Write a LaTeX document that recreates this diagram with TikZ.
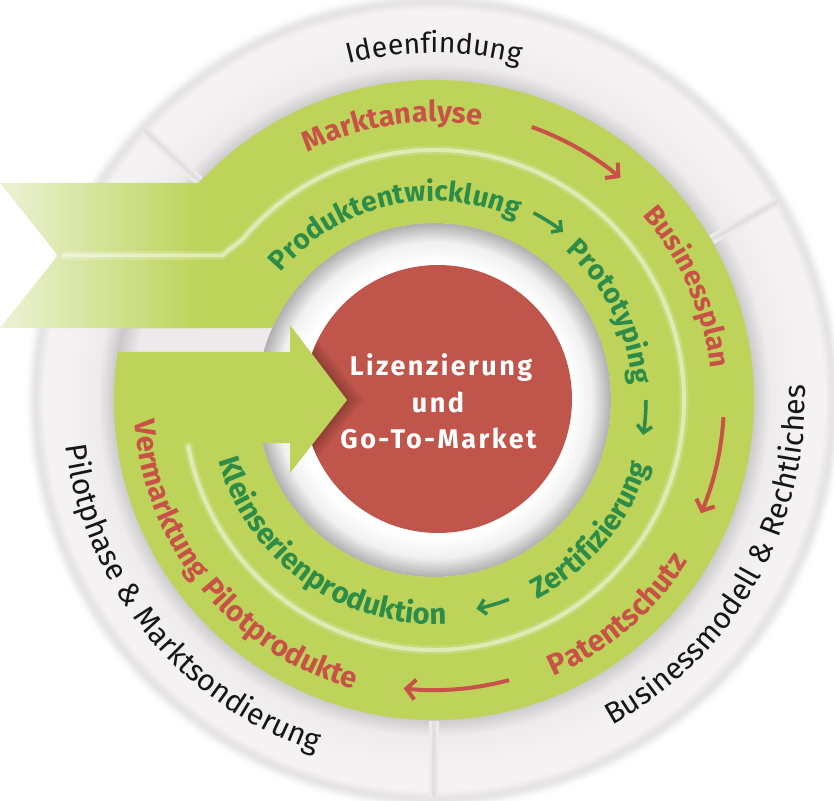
\documentclass[tikz,border=0pt]{standalone}
\usepackage{fontspec}
\setmainfont{Fira Sans}[LetterSpace=4]
\newfontfamily\centerfont{Fira Sans}[LetterSpace=9]
\usetikzlibrary{decorations.text,arrows.meta}

\definecolor{ringgreen}{RGB}{189,211,90}
\definecolor{palegreen}{RGB}{236,242,214}
\definecolor{labred}{RGB}{201,82,72}
\definecolor{labgreen}{RGB}{44,140,72}
\definecolor{redcircle}{RGB}{192,86,75}
\definecolor{outertext}{RGB}{22,22,22}
\definecolor{dA}{RGB}{236,234,234}
\definecolor{dB}{RGB}{203,201,201}
\definecolor{dC}{RGB}{237,235,235}
\definecolor{dD}{RGB}{244,242,242}
\definecolor{dE}{RGB}{230,228,228}
\definecolor{dF}{RGB}{249,249,249}
\definecolor{gA}{RGB}{240,240,240}
\definecolor{gB}{RGB}{176,174,174}
\definecolor{divA}{RGB}{236,234,234}
\definecolor{divB}{RGB}{225,223,223}

\pgfdeclareradialshading{discshade}{\pgfpointorigin}{color(0bp)=(dA); color(18.29bp)=(dA); color(19.45bp)=(dB); color(20.49bp)=(dC); color(22.56bp)=(dD); color(23.78bp)=(dD); color(24.21bp)=(dE); color(24.39bp)=(dE); color(24.76bp)=(dF); color(25bp)=(white); color(50bp)=(white)}
\pgfdeclareradialshading{gapshade}{\pgfpointorigin}{color(0bp)=(white); color(19.49bp)=(white); color(22.32bp)=(gA); color(25bp)=(gB); color(50bp)=(gB)}

\newcommand\myouter[1]{\fontsize{#1}{30}\selectfont\color{outertext}}
\newcommand\myred[1]{\fontsize{#1}{30}\selectfont\bfseries\color{labred}}
\newcommand\mygreen[1]{\fontsize{#1}{30}\selectfont\bfseries\color{labgreen}}

\tikzset{
  centertext/.style={text=white, font=\centerfont\bfseries\fontsize{27}{30}\selectfont, inner sep=0pt, anchor=base},
  redarrow/.style={draw=labred, line width=4pt, -{Straight Barb[length=9pt,width=20pt]}},
  greenarrow/.style={draw=labgreen, line width=3.5pt, -{Straight Barb[length=7pt,width=15pt]}},
}

\begin{document}
\begin{tikzpicture}[x=1pt,y=1pt]
\useasboundingbox (-434,-400) rectangle (400,400);
% outer disc
\shade[shading=discshade] (0,0) circle[radius=410];
\foreach \a in {30,137,270} {
  \draw[divA, line width=10pt] (\a:321) -- (\a:397);
  \draw[divB, line width=4pt] (\a:321) -- (\a:397);
}
% inner gap
\shade[shading=gapshade] (0,0) circle[radius=177];
% red circle
\fill[redcircle] (4,1) circle[radius=134];
\begin{scope}
  \clip (4,1) circle[radius=134];
  \foreach \s in {4,8,12,16} {
    \fill[black, opacity=0.06, xshift=\s pt] (-144,75) -- (-87,0) -- (-144,-73) -- cycle;
  }
\end{scope}
% green ring with arrow
\fill[ringgreen] (167.0:320) arc[start angle=167.0, end angle=-188.63, radius=320]
  -- (-144,48) -- (-144,75) -- (-87,0) -- (-144,-73) -- (-144,-43) -- (-171.7,-43)
  arc[start angle=-165.94, end angle=156.03, radius=177] -- cycle;
% ribbon
\shade[left color=palegreen, right color=ringgreen] (-434,217) -- (-235.2,217) -- (-235.2,72) -- (-434,72) -- (-376,144.5) -- cycle;
% stripe
\draw[white, opacity=0.18, line width=9pt, line join=round, line cap=round] (-370,144.5) -- (-212,144.5) -- (140:250) arc[start angle=140, end angle=-169.3, radius=250];
\draw[white, opacity=0.45, line width=4pt, line join=round, line cap=round] (-370,144.5) -- (-212,144.5) -- (140:250) arc[start angle=140, end angle=-169.3, radius=250];

% center texts
\node[centertext] (lz) at (7,25) {Lizenzierung};
\node[centertext] (und) at (4,-12) {und};
\node[centertext] (gtm) at (4.5,-48) {Go-To-Market};

% outer labels
\path[decorate, decoration={text along path, text align=center, text={|\myouter{28.5}|Ideenfindung}}]
  (150:347) arc[start angle=150, end angle=30, radius=347];
\path[decorate, decoration={text along path, text align=center, text={|\myouter{30}|Businessmodell {\&} Rechtliches}}]
  (-99.5:371) arc[start angle=-99.5, end angle=40.5, radius=371];
\path[decorate, decoration={text along path, text align=center, text={|\myouter{30}|Pilotphase {\&} Marktsondierung}}]
  (149.3:371) arc[start angle=149.3, end angle=289.3, radius=371];

% red labels
\path[decorate, decoration={text along path, text align=center, text={|\myred{28.8}|Marktanalyse}}]
  (158.6:278) arc[start angle=158.6, end angle=38.6, radius=278];
\path[decorate, decoration={text along path, text align=center, text={|\myred{28}|Businessplan}}]
  (84:278) arc[start angle=84, end angle=-36, radius=278];
\path[decorate, decoration={text along path, text align=center, text={|\myred{29.8}|Patentschutz}}]
  (-109.5:301) arc[start angle=-109.5, end angle=10.5, radius=301];
\path[decorate, decoration={text along path, text align=center, text={|\myred{29.3}|Vermarktung Pilotprodukte}}]
  (149.3:300) arc[start angle=149.3, end angle=289.3, radius=300];

% green labels
\path[decorate, decoration={text along path, text align=center, text={|\mygreen{28}|Produktentwicklung}}]
  (172.9:199) arc[start angle=172.9, end angle=32.9, radius=199];
\path[decorate, decoration={text along path, text align=center, text={|\mygreen{28}|Prototyping}}]
  (86.5:199) arc[start angle=86.5, end angle=-33.5, radius=199];
\path[decorate, decoration={text along path, text align=center, text={|\mygreen{28.8}|Zertifizierung}}]
  (-99.8:224) arc[start angle=-99.8, end angle=20.2, radius=224];
\path[decorate, decoration={text along path, text align=center, text={|\mygreen{29.4}|Kleinserienproduktion}}]
  (164.4:224) arc[start angle=164.4, end angle=304.4, radius=224];

% arrows
\draw[redarrow] (70.3:290) arc[start angle=70.3, end angle=50, radius=290];
\draw[redarrow] (-3.4:290) arc[start angle=-3.4, end angle=-23, radius=290];
\draw[redarrow] (-75:290) arc[start angle=-75, end angle=-96, radius=290];
\draw[greenarrow] (62:212) arc[start angle=62, end angle=52.5, radius=212];
\draw[greenarrow] (0:212) arc[start angle=0, end angle=-9.5, radius=212];
\draw[greenarrow] (-69.4:213) arc[start angle=-69.4, end angle=-78.5, radius=213];
\end{tikzpicture}
\end{document}
